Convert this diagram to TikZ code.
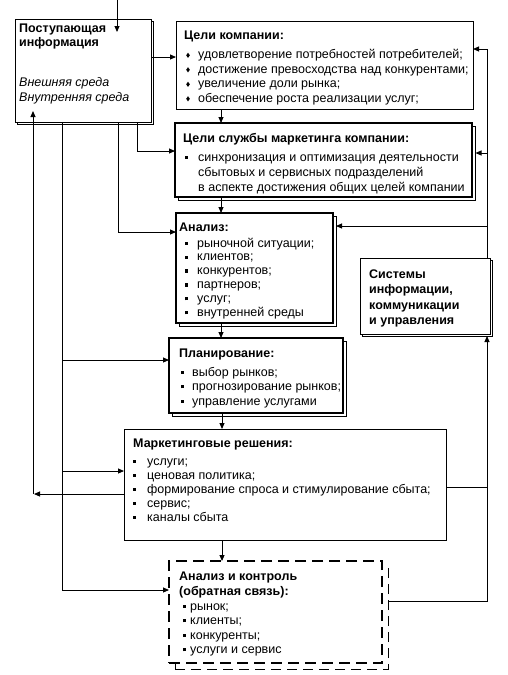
\documentclass[tikz,border=0pt]{standalone}
\usepackage{fontspec}
\setmainfont{Liberation Sans}
\usetikzlibrary{arrows.meta,shadows,calc}
\newcommand\fsz{\fontsize{12.5}{14.5}\selectfont}
\newcommand\sqbul{\rule[2.2pt]{3.2pt}{3.2pt}}
\newcommand\dmdbul{\raisebox{0.6pt}{\scalebox{0.8}[1.15]{\rotatebox{45}{\rule{3.2pt}{3.2pt}}}}}
\tikzset{
 bx/.style={draw, line width=1pt, fill=white, anchor=north west, inner sep=0pt, outer sep=0pt},
 thk/.style={line width=2pt},
 shd/.style={general shadow={shadow xshift=#1, shadow yshift=-#1, draw, line width=0.8pt, fill=white}},
 ttl/.style={anchor=base west, inner sep=0pt, font=\fsz\bfseries},
 itm/.style={anchor=base west, inner sep=0pt, font=\fsz},
 itl/.style={anchor=base west, inner sep=0pt, font=\fsz\itshape},
 arr/.style={line width=0.9pt, -{Triangle[length=6pt,width=5pt]}},
 ln/.style={line width=0.9pt},
}
\begin{document}
\begin{tikzpicture}[x=1pt,y=-1pt]
\useasboundingbox[fill=white] (0,0) rectangle (508,675);
% boxes
\node[bx, shd=2pt, minimum width=136pt, minimum height=103pt] (info) at (15,19) {};
\node[bx, minimum width=297pt, minimum height=88pt] (ck) at (176,21) {};
\node[bx, thk, shd=3pt, minimum width=297pt, minimum height=74pt] (cs) at (175,123) {};
\node[bx, thk, shd=3pt, minimum width=157pt, minimum height=110pt] (an) at (176,213) {};
\node[bx, shd=2.5pt, minimum width=130pt, minimum height=76pt] (sys) at (360,258) {};
\node[bx, thk, shd=3pt, minimum width=174pt, minimum height=75pt] (pl) at (169,338) {};
\node[bx, minimum width=322pt, minimum height=111pt] (md) at (124,429) {};
\node[bx, line width=1.1pt, dash pattern=on 11pt off 6pt,
  general shadow={shadow xshift=6pt, shadow yshift=-6pt, draw, dash pattern=on 10pt off 6pt, line width=0.6pt, fill=white},
  minimum width=213pt, minimum height=102pt] (ac) at (169,561) {};
% texts
\node[ttl] (in1) at (19,32) {Поступающая};
\node[ttl] (in2) at (19,46.5) {информация};
\node[itl] (in3) at (19,86) {Внешняя среда};
\node[itl] (in4) at (19,101) {Внутренняя среда};

\node[ttl] (ckt) at (184,39) {Цели компании:};
\foreach \txt [count=\i] in {удовлетворение потребностей потребителей;, достижение превосходства над конкурентами;, увеличение доли рынка;, обеспечение роста реализации услуг;}
  \node[itm] (ck\i) at (186,44+\i*14.5) {\makebox[12pt][l]{\dmdbul}\txt};

\node[ttl] (cst) at (183,142) {Цели службы маркетинга компании:};
\node[itm] (cs1) at (185,161) {\makebox[13pt][l]{\sqbul}синхронизация и оптимизация деятельности};
\node[itm] (cs2) at (198,176) {сбытовых и сервисных подразделений};
\node[itm] (cs3) at (198,191) {в аспекте достижения общих целей компании};

\node[ttl] (ant) at (179,231) {Анализ:};
\foreach \txt [count=\i] in {рыночной ситуации;, клиентов;, конкурентов;, партнеров;, услуг;, внутренней среды}
  \node[itm] (an\i) at (185,233.1+\i*13.9) {\makebox[12pt][l]{\sqbul}\txt};

\node[ttl] (sy1) at (369,278) {Системы};
\node[ttl] (sy2) at (369,293.5) {информации,};
\node[ttl] (sy3) at (369,309) {коммуникации};
\node[ttl] (sy4) at (369,324) {и управления};

\node[ttl] (plt) at (179,357) {Планирование:};
\foreach \txt [count=\i] in {выбор рынков;, прогнозирование рынков;, управление услугами}
  \node[itm] (pl\i) at (181,361.5+\i*14.5) {\makebox[11pt][l]{\sqbul}\txt};

\node[ttl] (mdt) at (133,447) {Маркетинговые решения:};
\foreach \txt [count=\i] in {услуги;, ценовая политика;, формирование спроса и стимулирование сбыта;, сервис;, каналы сбыта}
  \node[itm] (md\i) at (133,451+\i*14) {\makebox[14pt][l]{\sqbul}\txt};

\node[ttl] (ac1) at (179,580) {Анализ и контроль};
\node[ttl] (ac2) at (179,595) {(обратная связь):};
\foreach \txt [count=\i] in {рынок;, клиенты;, конкуренты;, услуги и сервис}
  \node[itm] (acl\i) at (183,595.5+\i*14.5) {\makebox[7pt][l]{\sqbul}\txt};

% connectors
\coordinate (src) at (117,0);
\draw[arr] (src) -- (117,32);
\draw[arr] (info.east |- 0,57) -- (ck.west |- 0,57);
\draw[arr] (ck.south -| 221,0) -- (cs.north -| 221,0);
\draw[arr] (cs.south -| 221,0) -- (an.north -| 221,0);
\draw[arr] (an.south -| 221,0) -- (pl.north -| 221,0);
\draw[arr] (pl.south -| 222,0) -- (md.north -| 222,0);
\draw[arr] (md.south -| 222,0) -- (ac.north -| 222,0);
% left side
\draw[arr] (info.south -| 137,0) |- (cs.west |- 0,151);
\draw[arr] (info.south -| 118,0) |- (an.west |- 0,232);
\draw[arr] (info.south -| 62,0) |- (pl.west |- 0,360);
\draw[arr] (62,360) |- (ac.west |- 0,590);
\draw[arr] (62,471) -- (md.west |- 0,471);
\draw[arr] (md.west |- 0,494) -- (34,494);
\draw[arr] (33,494) -- (33,111);
% right side
\draw[arr] (sys.north -| 487,0) |- (ck.east |- 0,49);
\draw[arr] (487,153) -- (475.5,153);
\draw[arr] (487,226) -- (336,226);
\draw[ln] (md.east |- 0,487) -- (487,487);
\draw[arr] (388,601) -| (487,336);
\end{tikzpicture}
\end{document}
